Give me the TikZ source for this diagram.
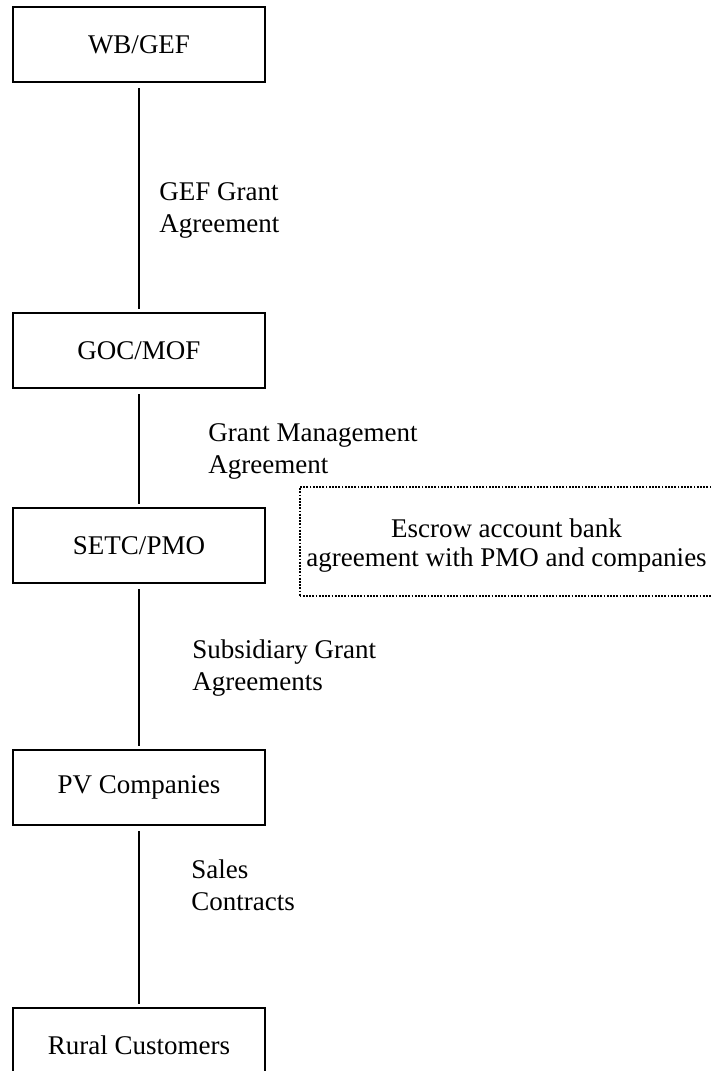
\documentclass[tikz,border=0pt]{standalone}
\usepackage{fontspec}
\setmainfont{Liberation Serif}
\usepackage{tikz}
\usetikzlibrary{positioning}

\begin{document}
\begin{tikzpicture}[font=\fontsize{13.5}{16}\selectfont,
  box/.style={draw, line width=1pt, minimum width=126pt, minimum height=37.5pt, inner sep=2pt},
  note/.style={draw, line width=1pt, dash pattern=on 0.9pt off 0.7pt, align=center,
    font=\fontsize{13.5}{14.5}\selectfont, text height=27.5pt, text depth=3pt,
    minimum width=206.5pt, minimum height=54.5pt},
  lbl/.style={align=left, anchor=base west, inner sep=0pt},
  link/.style={line width=1pt, shorten <=2.5pt, shorten >=1.5pt}]
\clip (0,0) rectangle (355.5pt,-535.5pt);
% boxes down the chain
\node[box] (wb) at (69.5pt,-22.25pt) {WB/GEF};
\node[box, below=114.5pt of wb] (goc) {GOC/MOF};
\node[box, below=59pt of goc] (setc) {SETC/PMO};
\node[box, below=82.5pt of setc] (pv) {PV Companies};
\node[box, below=90.5pt of pv] (rural) {Rural Customers};
\node[note] (escrow) at (253.25pt,-270.75pt) {Escrow account bank\\agreement with PMO and companies};
% agreements between them
\draw[link] (wb) -- (goc);
\draw[link] (goc) -- (setc);
\draw[link] (setc) -- (pv);
\draw[link] (pv) -- (rural);
\node[lbl] (gef) at (79.5pt,-116pt) {GEF Grant\\Agreement};
\node[lbl] (gma) at (104pt,-236.5pt) {Grant Management\\Agreement};
\node[lbl] (sub) at (96pt,-345pt) {Subsidiary Grant\\Agreements};
\node[lbl] (sales) at (95.5pt,-455pt) {Sales\\Contracts};
\end{tikzpicture}
\end{document}
